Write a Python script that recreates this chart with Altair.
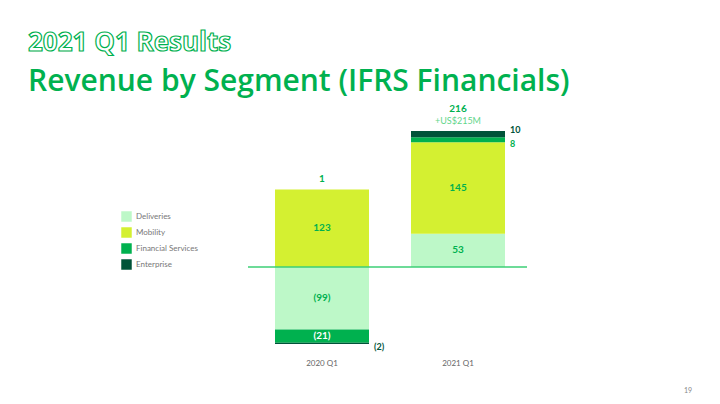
import altair as alt
import pandas as pd

segments = ["Deliveries", "Mobility", "Financial Services", "Enterprise"]
seg_colors = ["#bdf8c8", "#d4f031", "#00b14f", "#005339"]
periods = ["2020 Q1", "2021 Q1"]
values_2020 = [-99, 123, -21, -2]
values_2021 = [53, 145, 8, 10]
totals = [1, 216]
total_notes = ["", "+US$215M"]

# build stacked table (positives and negatives stacked separately)
rows = []
for p, vals in zip(periods, [values_2020, values_2021]):
    pos, neg = 0, 0
    for s, v in zip(segments, vals):
        if v >= 0:
            y0, y1 = pos, pos + v
            pos = y1
        else:
            y0, y1 = neg, neg + v
            neg = y1
        lab = str(v) if v >= 0 else f"({-v})"
        small = abs(v) < 15
        txtcol = "#00b14f" if s in ("Deliveries", "Mobility") else "#ffffff"
        rows.append(dict(period=p, segment=s, value=v, y0=y0, y1=y1,
                         mid=(y0 + y1) / 2, label=lab, small=small,
                         txtcol=txtcol, order=segments.index(s)))
df = pd.DataFrame(rows)
tot = pd.DataFrame(dict(period=periods, total=totals, note=total_notes,
                        top=[df[(df.period == p) & (df.value > 0)].value.sum() for p in periods]))

W, H = 704, 388
xs = alt.X("period:N", scale=alt.Scale(type="point", domain=periods, range=[314, 450], padding=0), axis=None)
yscale = alt.Scale(domain=[-122, 216], range=[336, 123], nice=False, zero=False)

base = alt.Chart(df)
bars = base.mark_bar(size=94).encode(
    x=xs,
    y=alt.Y("y0:Q", scale=yscale, axis=None),
    y2="y1:Q",
    color=alt.Color("segment:N", scale=alt.Scale(domain=segments, range=seg_colors),
                    legend=alt.Legend(title=None, orient="none", legendX=113, legendY=203,
                                      symbolType="square", symbolSize=110, symbolStrokeWidth=0,
                                      labelFont="Lato", labelFontSize=8, labelColor="#777777",
                                      rowPadding=5, symbolOpacity=1)),
    order=alt.Order("order:Q"),
)

in_labels = base.transform_filter("!datum.small").mark_text(
    font="Lato", fontWeight="bold", fontSize=10, baseline="middle").encode(
    x=xs, y=alt.Y("mid:Q", scale=yscale), text="label:N",
    color=alt.Color("txtcol:N", scale=None))

small_up = base.transform_filter("datum.small && datum.segment == 'Enterprise' && datum.value > 0").mark_text(
    font="Lato", fontWeight="bold", fontSize=9, baseline="middle", align="left", dx=52, dy=-4).encode(
    x=xs, y=alt.Y("mid:Q", scale=yscale), text="label:N",
    color=alt.Color("segment:N", scale=alt.Scale(domain=segments, range=seg_colors), legend=None))
small_dn = base.transform_filter("datum.small && !(datum.segment == 'Enterprise' && datum.value > 0)").mark_text(
    font="Lato", fontWeight="bold", fontSize=9, baseline="middle", align="left", dx=52, dy=4).encode(
    x=xs, y=alt.Y("mid:Q", scale=yscale), text="label:N",
    color=alt.Color("segment:N", scale=alt.Scale(domain=segments, range=seg_colors), legend=None))

zero = alt.Chart(pd.DataFrame({"z": [0]})).mark_rule(color="#3dcf76", strokeWidth=1.5).encode(
    y=alt.Y("z:Q", scale=yscale), x=alt.value(240), x2=alt.value(519))

tbase = alt.Chart(tot)
tot_lab = tbase.transform_filter("datum.note == ''").mark_text(
    font="Lato", fontWeight="bold", fontSize=10, color="#00b14f", baseline="middle", dy=-11).encode(
    x=xs, y=alt.Y("top:Q", scale=yscale), text="total:Q")
tot_lab2 = tbase.transform_filter("datum.note != ''").mark_text(
    font="Lato", fontWeight="bold", fontSize=10, color="#00b14f", baseline="middle", dy=-22).encode(
    x=xs, y=alt.Y("top:Q", scale=yscale), text="total:Q")
note_lab = tbase.transform_filter("datum.note != ''").mark_text(
    font="Lato", fontSize=9, color="#5fd68b", baseline="middle", dy=-10).encode(
    x=xs, y=alt.Y("top:Q", scale=yscale), text="note:N")

xlabels = tbase.mark_text(font="Lato", fontSize=8, color="#666666", baseline="middle").encode(
    x=xs, y=alt.value(356), text="period:N")

txt = pd.DataFrame({"t1": ["2021 Q1 Results"], "t2": ["Revenue by Segment (IFRS Financials)"], "pg": ["19"]})
title1 = alt.Chart(txt).mark_text(font="Open Sans", fontWeight="bold", fontSize=26, fill="#ffffff",
                                  stroke="#00b14f", strokeWidth=1.2, align="left", baseline="middle").encode(
    x=alt.value(20), y=alt.value(35), text="t1:N")
title2 = alt.Chart(txt).mark_text(font="Open Sans", fontWeight=600, fontSize=30, color="#00b14f",
                                  align="left", baseline="middle").encode(
    x=alt.value(20), y=alt.value(74), text="t2:N")
page = alt.Chart(txt).mark_text(font="Lato", fontSize=7, color="#888888", align="center",
                                baseline="middle").encode(
    x=alt.value(680), y=alt.value(383), text="pg:N")

chart = alt.layer(bars, zero, in_labels, small_up, small_dn, tot_lab, tot_lab2, note_lab, xlabels,
                  title1, title2, page).properties(
    width=W, height=H, autosize=alt.AutoSizeParams(type="none"), padding=0
).configure_view(stroke=None).resolve_scale(color="independent")

chart.save("out.html", embed_options={"renderer": "svg", "actions": False})
